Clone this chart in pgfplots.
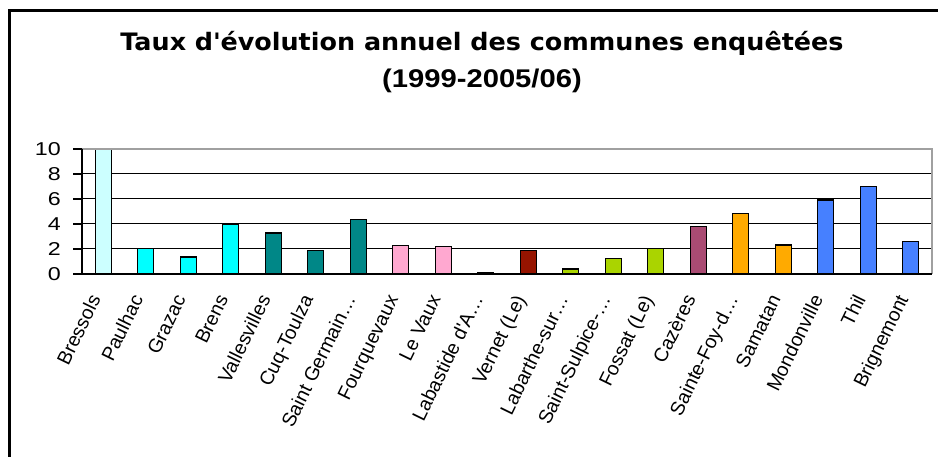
\documentclass[border=0pt]{standalone}
\usepackage{pgfplots}
\pgfplotsset{compat=1.18}
\usepackage{fontspec}
\setmainfont{Liberation Sans}
\newfontfamily\titlefonta[FakeStretch=1.06]{DejaVu Sans}
\newfontfamily\titlefontb[FakeStretch=1.14]{Liberation Sans}
\newfontfamily\tickfont[FakeStretch=1.25]{Liberation Sans}
\definecolor{cA}{RGB}{204,255,255}
\definecolor{cB}{RGB}{0,255,255}
\definecolor{cC}{RGB}{0,135,135}
\definecolor{cD}{RGB}{255,168,208}
\definecolor{cE}{RGB}{90,90,90}
\definecolor{cF}{RGB}{150,20,0}
\definecolor{cG}{RGB}{170,212,0}
\definecolor{cH}{RGB}{170,75,115}
\definecolor{cI}{RGB}{255,170,0}
\definecolor{cJ}{RGB}{70,128,255}
\definecolor{bordergray}{RGB}{160,160,160}
\begin{document}
\begin{tikzpicture}[x=1pt,y=1pt]
\path[use as bounding box] (0,0) rectangle (938,457);
\draw[line width=2.5pt] (9.3,0) -- (9.3,446.3) -- (938,446.3);
\node[anchor=base, font=\fontsize{24}{28}\selectfont\titlefonta\bfseries] at (482,406) {Taux d\textquotesingle évolution annuel des communes enquêtées};
\node[anchor=base, font=\fontsize{25.6}{28}\selectfont\titlefontb\bfseries] at (482,369) {(1999-2005/06)};
\begin{axis}[
  at={(82pt,183pt)}, anchor=south west,
  scale only axis, width=850pt, height=125pt,
  xmin=-0.5, xmax=19.5, ymin=0, ymax=10,
  axis x line*=bottom, axis y line*=left,
  axis line style={line width=1.5pt, black},
  ytick={0,2,4,6,8,10},
  yticklabel style={font=\fontsize{18.6}{22}\selectfont\tickfont, inner sep=0pt, anchor=east, xshift=-12pt},
  /pgf/number format/assume math mode=true,
  xtick=\empty,
  minor xtick={-0.5,0.5,...,19.5},
  tick align=outside, major tick length=9pt, minor tick length=6pt,
  tick style={line width=1.3pt, black},
  extra x ticks={0,1,...,19},
  extra x tick labels={Bressols,Paulhac,Grazac,Brens,Vallesvilles,Cuq-Toulza,Saint Germain…,Fourquevaux,Le Vaux,Labastide d\textquotesingle A…,Vernet (Le),Labarthe-sur…,Saint-Sulpice-…,Fossat (Le),Cazères,Sainte-Foy-d…,Samatan,Mondonville,Thil,Brignemont},
  extra x tick style={major tick length=0pt, tick style={draw=none},
     xticklabel style={font=\fontsize{19.5}{22}\selectfont, inner sep=0pt, anchor=base east, yshift=-25pt, xshift=-2pt, rotate=64}},
  ymajorgrids=true,
  grid style={line width=1pt, black},
  ybar, bar width=16pt, bar shift=0pt,
  every axis plot/.append style={draw=black, line width=1.3pt},
  clip=false,
]
\addplot[fill=cA] coordinates {(0,10)};
\addplot[fill=cB] coordinates {(1,2.03) (2,1.36) (3,3.98)};
\addplot[fill=cC] coordinates {(4,3.28) (5,1.9) (6,4.38)};
\addplot[fill=cD] coordinates {(7,2.3) (8,2.18)};
\addplot[fill=cE] coordinates {(9,0.12)};
\addplot[fill=cF] coordinates {(10,1.9)};
\addplot[fill=cG] coordinates {(11,0.4) (12,1.23) (13,2.04)};
\addplot[fill=cH] coordinates {(14,3.82)};
\addplot[fill=cI] coordinates {(15,4.82) (16,2.32)};
\addplot[fill=cJ] coordinates {(17,5.92) (18,7.01) (19,2.6)};
\draw[bordergray, line width=1.5pt] (rel axis cs:0,1) -- (rel axis cs:1,1) -- (rel axis cs:1,0);
\draw[black, line width=1.5pt] (rel axis cs:0,1) -- (rel axis cs:0,0) -- (rel axis cs:1,0);
\end{axis}
\end{tikzpicture}
\end{document}
